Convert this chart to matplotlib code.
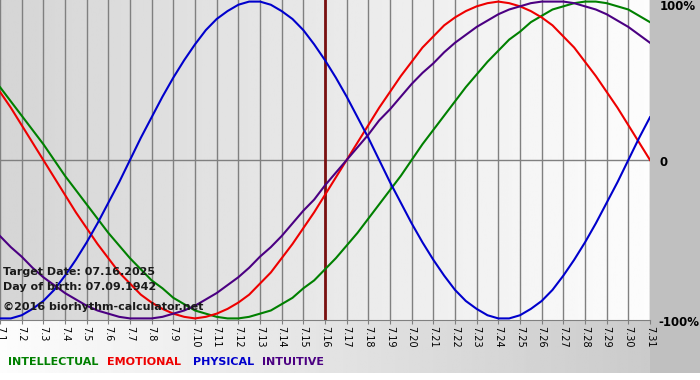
import numpy as np
import matplotlib
matplotlib.use("Agg")
import matplotlib.pyplot as plt

days = list(range(1, 32))
day_labels = [f"7.{d}" for d in days]
# values read every half day, from 7.1 to 7.31
sample_days = np.arange(1, 31.01, 0.5)

physical = [-1.00, -1.00, -0.98, -0.94, -0.89, -0.82, -0.73, -0.63, -0.52, -0.40,
            -0.27, -0.14, 0.00, 0.14, 0.27, 0.40, 0.52, 0.63, 0.73, 0.82,
            0.89, 0.94, 0.98, 1.00, 1.00, 0.98, 0.94, 0.89, 0.82, 0.73,
            0.63, 0.52, 0.40, 0.27, 0.14, 0.00, -0.14, -0.27, -0.40, -0.52,
            -0.63, -0.73, -0.82, -0.89, -0.94, -0.98, -1.00, -1.00, -0.98, -0.94,
            -0.89, -0.82, -0.73, -0.63, -0.52, -0.40, -0.27, -0.14, 0.00, 0.14, 0.27]
emotional = [0.43, 0.33, 0.22, 0.11, 0.00, -0.11, -0.22, -0.33, -0.43, -0.53,
             -0.62, -0.71, -0.78, -0.85, -0.90, -0.94, -0.97, -0.99, -1.00, -0.99,
             -0.97, -0.94, -0.90, -0.85, -0.78, -0.71, -0.62, -0.53, -0.43, -0.33,
             -0.22, -0.11, 0.00, 0.11, 0.22, 0.33, 0.43, 0.53, 0.62, 0.71,
             0.78, 0.85, 0.90, 0.94, 0.97, 0.99, 1.00, 0.99, 0.97, 0.94,
             0.90, 0.85, 0.78, 0.71, 0.62, 0.53, 0.43, 0.33, 0.22, 0.11, 0.00]
intellectual = [0.46, 0.37, 0.28, 0.19, 0.10, 0.00, -0.10, -0.19, -0.28, -0.37,
                -0.46, -0.54, -0.62, -0.69, -0.76, -0.81, -0.87, -0.91, -0.95, -0.97,
                -0.99, -1.00, -1.00, -0.99, -0.97, -0.95, -0.91, -0.87, -0.81, -0.76,
                -0.69, -0.62, -0.54, -0.46, -0.37, -0.28, -0.19, -0.10, 0.00, 0.10,
                0.19, 0.28, 0.37, 0.46, 0.54, 0.62, 0.69, 0.76, 0.81, 0.87,
                0.91, 0.95, 0.97, 0.99, 1.00, 1.00, 0.99, 0.97, 0.95, 0.91, 0.87]
intuitive = [-0.48, -0.55, -0.61, -0.68, -0.74, -0.79, -0.84, -0.88, -0.92, -0.95,
             -0.97, -0.99, -1.00, -1.00, -1.00, -0.99, -0.97, -0.95, -0.92, -0.88,
             -0.84, -0.79, -0.74, -0.68, -0.61, -0.55, -0.48, -0.40, -0.32, -0.25,
             -0.16, -0.08, 0.00, 0.08, 0.16, 0.25, 0.32, 0.40, 0.48, 0.55,
             0.61, 0.68, 0.74, 0.79, 0.84, 0.88, 0.92, 0.95, 0.97, 0.99,
             1.00, 1.00, 1.00, 0.99, 0.97, 0.95, 0.92, 0.88, 0.84, 0.79, 0.74]

target_day = 16
series_names = ["INTELLECTUAL", "EMOTIONAL", "PHYSICAL", "INTUITIVE"]
series_colors = ["#008000", "#ee0000", "#0000cc", "#4b0082"]
info_lines = ["Target Date: 07.16.2025", "Day of birth: 07.09.1942", "\u00a92016 biorhythm-calculator.net"]

W, H = 700, 380
fig = plt.figure(figsize=(7, 3.8), dpi=100)
fig.patch.set_facecolor("white")

# background axes in pixel coordinates
bg = fig.add_axes([0, 0, 1, 1], zorder=-5)
bg.set_xlim(0, W)
bg.set_ylim(H, 0)
bg.axis("off")
grad = np.linspace(0.99, 0.78, 256)[None, :]
bg.imshow(grad, extent=[0, W, 373, 320], aspect="auto", cmap="gray", vmin=0, vmax=1, zorder=0)
bg.add_patch(plt.Rectangle((650, 0), 50, 373, color="#c0c0c0", zorder=1, lw=0))

ax = fig.add_axes([0, (H - 320) / H, 650 / W, 320 / H])
ax.set_xlim(1, 31)
ax.set_ylim(-1.01, 1.01)
pg = np.linspace(0.835, 0.99, 256)[None, :]
ax.imshow(pg, extent=[1, 31, -1.01, 1.01], aspect="auto", cmap="gray", vmin=0, vmax=1, zorder=0)

for d in days:
    ax.axvline(d, color="#808080", lw=1.0, zorder=1)
ax.axhline(0, color="#808080", lw=1.0, zorder=1)
ax.axvline(target_day, color="#7a1010", lw=2.0, zorder=2)

for name, vals, c in zip(series_names, [intellectual, emotional, physical, intuitive], series_colors):
    ax.plot(sample_days, vals, color=c, lw=1.5, zorder=3, solid_joinstyle="round")

for s in ["top", "left", "right"]:
    ax.spines[s].set_visible(False)
ax.spines["bottom"].set_color("#808080")
ax.set_yticks([])
ax.set_xticks(days)
ax.set_xticklabels(day_labels, rotation=270, fontsize=7, fontfamily="DejaVu Sans")
ax.tick_params(axis="x", length=3, color="#808080", pad=1)

# info text
for i, t in enumerate(info_lines):
    ypix = [272, 287, 307][i]
    fig.text(3 / W, 1 - ypix / H, t, fontsize=8, fontweight="bold", color="#1a1a1a",
             va="center", ha="left")

# right labels
fig.text(660 / W, 1 - 7 / H, "100%", fontsize=8.5, fontweight="bold", va="center", ha="left")
fig.text(660 / W, 1 - 162 / H, "0", fontsize=8.5, fontweight="bold", va="center", ha="left")
fig.text(658 / W, 1 - 323 / H, "-100%", fontsize=8.5, fontweight="bold", va="center", ha="left")

# legend
xs = [8, 107, 193, 262]
for x, n, c in zip(xs, series_names, series_colors):
    fig.text(x / W, 1 - 362 / H, n, fontsize=8, fontweight="bold", color=c, va="center", ha="left")

fig.savefig("out.png", dpi=100)
